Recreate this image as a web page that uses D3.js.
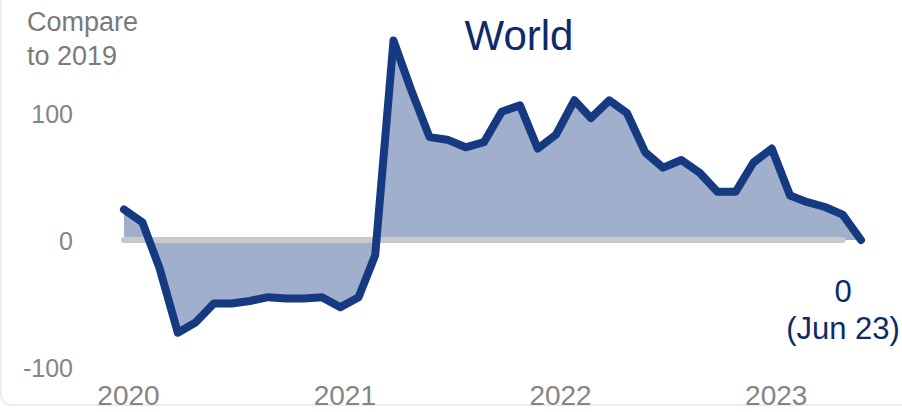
<!DOCTYPE html>
<head>
    <meta charset="utf-8">
    <script src="https://d3js.org/d3.v7.min.js"></script>
    <style>
        body { margin: 0; background: #fff; }
        text { font-family: "Liberation Sans", Arial, sans-serif; }
    </style>
</head>
<body>
<svg></svg>
</body>

<script>
    // monthly index vs 2019, Jan 2020 .. Jun 2023
    var startMonth = new Date(2020, 0, 1);
    var values = [24, 14, -22, -73, -65, -50, -50, -48, -45, -46, -46, -45,
                  -53, -45, -12, 157, 118, 81, 79, 73, 77, 101, 106, 72,
                  83, 110, 96, 110, 100, 69, 57, 63, 53, 38, 38, 61,
                  72, 35, 30, 26, 20, 0];
    var yTicks = [100, 0, -100];
    var xTickYears = [2020, 2021, 2022, 2023];
    var lastLabel = ["0", "(Jun 23)"];

    var data = values.map(function (v, i) {
        return { date: new Date(2020, i, 1), value: v };
    });

    var width = 902;
    var height = 412;

    var svg = d3.select('svg')
        .attr('width', width)
        .attr('height', height);

    // card edge
    svg.append('rect')
        .attr('x', 1).attr('y', -20)
        .attr('width', width + 20).attr('height', 425)
        .attr('rx', 10)
        .attr('fill', 'none')
        .attr('stroke', '#ededed')
        .attr('stroke-width', 2);

    var x = d3.scaleTime()
        .domain([startMonth, new Date(2023, 5, 1)])
        .range([124, 861]);

    var y = d3.scaleLinear()
        .domain([-100, 100])
        .range([367, 113]);

    // area between line and zero
    var area = d3.area()
        .x(function (d) { return x(d.date) })
        .y0(y(0))
        .y1(function (d) { return y(d.value) });

    svg.append('path')
        .datum(data)
        .attr('d', area)
        .attr('fill', '#a0afcb');

    // zero baseline
    svg.append('path')
        .datum(data.slice(0, data.length - 1))
        .attr('d', d3.line()
            .x(function (d) { return x(d.date) })
            .y(y(0)))
        .attr('fill', 'none')
        .attr('stroke', '#c9c9c9')
        .attr('stroke-width', 6)
        .attr('stroke-linecap', 'round');

    var line = d3.line()
        .x(function (d) { return x(d.date) })
        .y(function (d) { return y(d.value) });

    svg.append('path')
        .datum(data)
        .attr('d', line)
        .attr('fill', 'none')
        .attr('stroke', '#163a82')
        .attr('stroke-width', 8)
        .attr('stroke-linejoin', 'round')
        .attr('stroke-linecap', 'round');

    // y axis labels
    var yAxis = d3.axisLeft(y).tickValues(yTicks)
        .tickFormat(function (d) { return String(d) })
        .tickSize(0).tickPadding(0);
    var gy = svg.append('g')
        .attr('transform', 'translate(73,0)')
        .call(yAxis);
    gy.select('.domain').remove();
    gy.selectAll('text')
        .attr('fill', '#858585')
        .style('font-size', '25px')
        .attr('dy', '0.36em');

    // x axis labels
    var xAxis = d3.axisBottom(x)
        .tickValues(xTickYears.map(function (yr) { return new Date(yr, 0, 1) }))
        .tickFormat(d3.timeFormat('%Y'))
        .tickSize(0).tickPadding(0);
    var gx = svg.append('g')
        .attr('transform', 'translate(4,385)')
        .call(xAxis);
    gx.select('.domain').remove();
    gx.selectAll('text')
        .attr('fill', '#858585')
        .attr('dy', '0')
        .attr('y', 20)
        .style('font-size', '28px');

    // axis title
    svg.append('text')
        .attr('x', 27).attr('y', 31)
        .attr('fill', '#7a7a7a')
        .style('font-size', '27px')
        .text('Compare');
    svg.append('text')
        .attr('x', 27).attr('y', 65)
        .attr('fill', '#7a7a7a')
        .style('font-size', '27px')
        .text('to 2019');

    // chart title
    svg.append('text')
        .attr('x', 519).attr('y', 50)
        .attr('text-anchor', 'middle')
        .attr('fill', '#0d2a6b')
        .style('font-size', '42px')
        .text('World');

    // last value annotation
    svg.selectAll('.last')
        .data(lastLabel)
        .enter().append('text')
        .attr('class', 'last')
        .attr('x', 843)
        .attr('y', function (d, i) { return 302 + i * 37 })
        .attr('text-anchor', 'middle')
        .attr('fill', '#0d2a6b')
        .style('font-size', '31px')
        .text(function (d) { return d });
</script>
